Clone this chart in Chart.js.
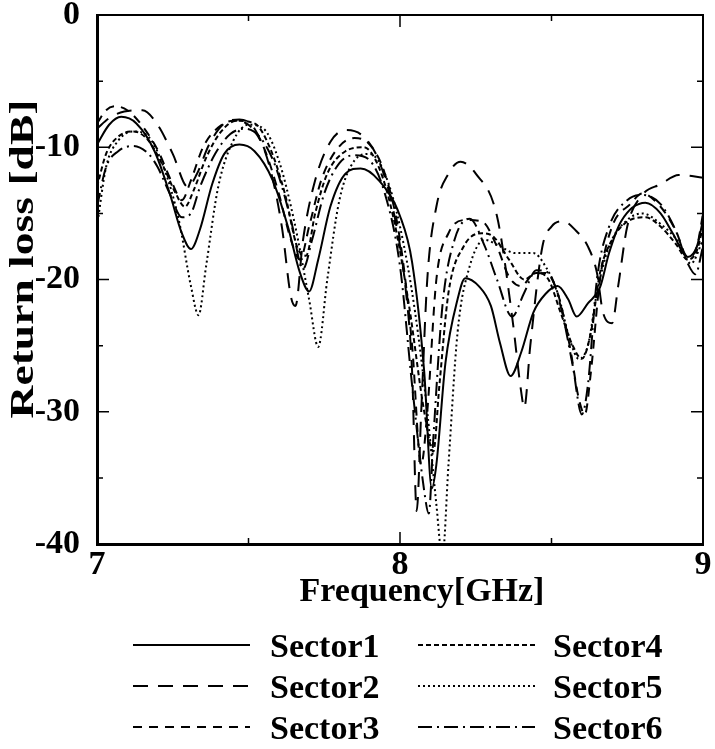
<!DOCTYPE html>
<html>
<head>
<meta charset="utf-8">
<script src="https://cdn.jsdelivr.net/npm/chart.js@4.4.0/dist/chart.umd.min.js"></script>
<style>
html,body{margin:0;padding:0;background:#fff;}
#wrap{width:715px;height:749px;position:relative;}
</style>
</head>
<body>
<div id="wrap"><canvas id="c" width="715" height="749"></canvas></div>
<script>
// [frequency GHz, return loss dB]
const sector1 = [[7.00,-9.8],[7.04,-8.3],[7.08,-7.7],[7.13,-8.2],[7.19,-10.3],[7.24,-13.5],[7.28,-16.5],[7.31,-17.7],[7.34,-16.2],[7.38,-12.8],[7.42,-10.5],[7.47,-9.8],[7.52,-10.3],[7.58,-12.5],[7.63,-16],[7.67,-19.5],[7.70,-20.9],[7.73,-18.5],[7.77,-14.5],[7.82,-12],[7.87,-11.6],[7.93,-12.5],[8.00,-15.2],[8.04,-18.7],[8.08,-27],[8.105,-35.8],[8.12,-34],[8.15,-26.3],[8.19,-21.5],[8.215,-19.9],[8.26,-20.5],[8.30,-22],[8.33,-24.8],[8.365,-27.3],[8.40,-25.5],[8.44,-22.5],[8.48,-21.1],[8.52,-20.5],[8.555,-21.5],[8.583,-22.8],[8.62,-21.8],[8.66,-20.6],[8.69,-18],[8.73,-15.6],[8.81,-14.2],[8.86,-15],[8.90,-16.5],[8.95,-18.3],[8.98,-17.5],[9.00,-15.5]];
const sector2 = [[7.00,-8.6],[7.04,-7.8],[7.09,-7.3],[7.15,-7.2],[7.20,-8.3],[7.25,-10.5],[7.30,-13.0],[7.33,-12.0],[7.37,-9.8],[7.42,-8.2],[7.47,-7.9],[7.52,-8.6],[7.57,-11.5],[7.61,-16],[7.64,-21.3],[7.655,-22],[7.68,-17],[7.72,-12.5],[7.77,-9.6],[7.82,-8.7],[7.88,-9.2],[7.93,-11],[7.98,-15],[8.02,-21],[8.04,-27],[8.055,-37.5],[8.07,-30],[8.09,-20],[8.12,-14.5],[8.16,-12],[8.20,-11.1],[8.25,-12],[8.32,-15.2],[8.37,-22.8],[8.40,-28.5],[8.41,-29.7],[8.43,-25],[8.47,-17.5],[8.50,-16],[8.54,-15.6],[8.58,-16.3],[8.62,-17.5],[8.65,-19.5],[8.67,-22.5],[8.70,-23.3],[8.72,-20.5],[8.75,-16],[8.80,-13.6],[8.86,-12.8],[8.92,-12.1],[9.00,-12.3]];
const sector3 = [[7.00,-8.2],[7.03,-7.2],[7.06,-6.9],[7.10,-7.2],[7.15,-8.4],[7.20,-10.2],[7.25,-12.8],[7.28,-14.0],[7.31,-12.5],[7.35,-10.0],[7.40,-8.5],[7.45,-8.0],[7.50,-8.3],[7.55,-10],[7.60,-13.5],[7.64,-17],[7.67,-18.5],[7.70,-16],[7.74,-12.5],[7.79,-10.2],[7.85,-9.3],[7.90,-9.8],[7.95,-12],[8.00,-17],[8.04,-25],[8.07,-34],[8.09,-30],[8.12,-20],[8.16,-16.5],[8.22,-15.5],[8.27,-15.6],[8.32,-17.5],[8.36,-19.8],[8.40,-20.5],[8.44,-19.6],[8.48,-19.5],[8.52,-21],[8.56,-25],[8.59,-29],[8.61,-30.2],[8.63,-27],[8.66,-20],[8.70,-16],[8.76,-14.3],[8.80,-13.5],[8.86,-14.5],[8.91,-16.3],[8.95,-18.3],[8.98,-17.5],[9.00,-15]];
const sector4 = [[7.00,-13],[7.03,-10.5],[7.07,-9.2],[7.12,-8.8],[7.17,-9.5],[7.22,-11.5],[7.26,-13.5],[7.29,-14.5],[7.32,-13.2],[7.36,-10.8],[7.41,-8.8],[7.46,-8.0],[7.52,-8.2],[7.57,-10],[7.62,-13.5],[7.66,-17.5],[7.69,-18.2],[7.72,-15],[7.76,-12],[7.82,-10.3],[7.88,-10],[7.93,-11.5],[7.98,-15.5],[8.03,-22],[8.08,-30],[8.11,-33],[8.13,-28],[8.16,-21],[8.21,-17.5],[8.27,-16.5],[8.31,-16.8],[8.36,-18.5],[8.41,-20],[8.45,-19.5],[8.49,-20],[8.53,-22.5],[8.57,-25],[8.60,-26],[8.63,-24],[8.66,-19.5],[8.70,-17],[8.76,-15.5],[8.81,-15.3],[8.86,-16],[8.91,-17.3],[8.95,-18.5],[8.98,-17.8],[9.00,-16]];
const sector5 = [[7.00,-16],[7.03,-11.5],[7.07,-9.5],[7.12,-8.8],[7.17,-9.2],[7.22,-11.5],[7.27,-15.5],[7.31,-20.5],[7.335,-22.7],[7.36,-19],[7.40,-13],[7.45,-9.5],[7.50,-8.3],[7.55,-8.6],[7.60,-11],[7.65,-15.5],[7.70,-21.5],[7.73,-25.1],[7.76,-20],[7.80,-14],[7.85,-11],[7.90,-10.5],[7.95,-12],[8.00,-16],[8.05,-22.5],[8.09,-30],[8.12,-37],[8.14,-41],[8.16,-34],[8.19,-24],[8.23,-19],[8.28,-17],[8.33,-17.5],[8.38,-18],[8.44,-18],[8.48,-19],[8.52,-21],[8.56,-24.5],[8.59,-26],[8.62,-25],[8.65,-21],[8.69,-17.5],[8.75,-15.5],[8.80,-15],[8.86,-15.8],[8.92,-17.2],[8.96,-18.8],[9.00,-17]];
const sector6 = [[7.00,-14.5],[7.03,-11.5],[7.07,-10.3],[7.12,-9.9],[7.17,-10.5],[7.20,-11.5],[7.24,-13.5],[7.28,-15.3],[7.31,-15.0],[7.34,-13],[7.39,-10.5],[7.44,-9],[7.49,-8.6],[7.54,-9.3],[7.59,-11.5],[7.64,-15.5],[7.68,-19.2],[7.71,-17],[7.75,-13.5],[7.80,-11.2],[7.85,-10.6],[7.90,-11],[7.95,-13.5],[8.00,-19],[8.04,-28],[8.08,-36],[8.095,-37.7],[8.11,-32],[8.14,-22],[8.18,-17],[8.23,-15.4],[8.28,-17.5],[8.32,-20],[8.37,-22.8],[8.41,-21],[8.45,-19.3],[8.49,-19.5],[8.53,-22],[8.57,-26.5],[8.60,-30.2],[8.62,-28],[8.65,-20],[8.69,-16],[8.75,-14],[8.80,-13.6],[8.86,-14.3],[8.91,-16.3],[8.95,-18.8],[8.975,-19.6],[9.00,-17.5]];

const sectorNames = ['Sector1','Sector2','Sector3','Sector4','Sector5','Sector6'];
const sectorData = [sector1, sector2, sector3, sector4, sector5, sector6];
const dashes = [[], [15,10], [9,7], [5,3], [2,3], [14,5,2,5]];
const xTicks = [7, 8, 9];
const yTicks = [0, -10, -20, -30, -40];
const xTitle = 'Frequency[GHz]';
const yTitle = 'Return loss [dB]';

const FONT = '"Liberation Serif","Times New Roman",serif';

// frame on top/right plus inward tick marks
const framePlugin = {
  id: 'frame',
  afterDraw(chart){
    const {ctx, chartArea:a, scales:{x, y}} = chart;
    ctx.save();
    ctx.strokeStyle = '#000';
    ctx.lineWidth = 2;
    ctx.beginPath();
    ctx.moveTo(a.left, a.top); ctx.lineTo(a.right, a.top); ctx.lineTo(a.right, a.bottom);
    ctx.stroke();
    ctx.lineWidth = 1.5;
    ctx.beginPath();
    for (let v = 7; v <= 9.001; v += 0.5) {
      const px = x.getPixelForValue(v);
      const len = Math.abs(v - Math.round(v)) < 0.01 ? 12 : 6;
      ctx.moveTo(px, a.bottom); ctx.lineTo(px, a.bottom - len);
      ctx.moveTo(px, a.top); ctx.lineTo(px, a.top + len);
    }
    for (let v = -40; v <= 0.001; v += 5) {
      const py = y.getPixelForValue(v);
      const len = v % 10 === 0 ? 12 : 6;
      ctx.moveTo(a.left, py); ctx.lineTo(a.left + len, py);
      ctx.moveTo(a.right, py); ctx.lineTo(a.right - len, py);
    }
    ctx.stroke();
    ctx.restore();
  }
};

// axis titles (the y one is drawn stretched like the original) and two-column legend
const legendPlugin = {
  id: 'sectorLegend',
  afterDraw(chart){
    const ctx = chart.ctx;
    ctx.save();
    ctx.font = 'bold 34px ' + FONT;
    ctx.fillStyle = '#000';
    ctx.strokeStyle = '#000';
    ctx.lineWidth = 2;

    ctx.save();
    ctx.translate(24, 259);
    ctx.rotate(-Math.PI / 2);
    ctx.scale(1.34, 1);
    ctx.textAlign = 'center';
    ctx.textBaseline = 'middle';
    ctx.fillText(yTitle, 0, 0);
    ctx.restore();

    ctx.textBaseline = 'alphabetic';
    ctx.textAlign = 'center';
    ctx.fillText(xTitle, 422, 601);
    ctx.textAlign = 'left';
    const cols = [{x0:133, x1:250, tx:270}, {x0:418, x1:535, tx:553}];
    const rows = [645, 686, 727];
    chart.data.datasets.forEach((ds, i) => {
      const c = cols[Math.floor(i / 3)], ry = rows[i % 3];
      ctx.setLineDash(ds.borderDash || []);
      ctx.beginPath(); ctx.moveTo(c.x0, ry); ctx.lineTo(c.x1, ry); ctx.stroke();
      ctx.setLineDash([]);
      ctx.fillText(ds.label, c.tx, ry + 12);
    });
    ctx.restore();
  }
};

new Chart(document.getElementById('c'), {
  type: 'line',
  data: {
    datasets: sectorData.map((pts, i) => ({
      label: sectorNames[i],
      data: pts.map(p => ({x: p[0], y: p[1]})),
      borderColor: '#000',
      borderWidth: 2,
      borderDash: dashes[i],
      pointRadius: 0,
      fill: false,
      cubicInterpolationMode: 'monotone'
    }))
  },
  options: {
    responsive: false,
    animation: false,
    layout: {padding: {top: 15, right: 12, bottom: 130, left: 0}},
    plugins: {legend: {display: false}, tooltip: {enabled: false}},
    scales: {
      x: {
        type: 'linear', min: 7, max: 9,
        afterBuildTicks: s => { s.ticks = xTicks.map(v => ({value: v})); },
        afterFit: s => { s.height = 75; s.paddingLeft = 0; s.paddingRight = 0; },
        ticks: {color: '#000', font: {family: FONT, size: 34, weight: 'bold'}, padding: -7, maxRotation: 0},
        grid: {display: false},
        border: {display: true, color: '#000', width: 3},
        title: {display: false}
      },
      y: {
        min: -40, max: 0,
        afterBuildTicks: s => { s.ticks = yTicks.map(v => ({value: v})); },
        afterFit: s => { s.width = 97; s.paddingTop = 0; s.paddingBottom = 0; },
        ticks: {color: '#000', font: {family: FONT, size: 34, weight: 'bold'}, padding: 9},
        grid: {display: false},
        border: {display: true, color: '#000', width: 3},
        title: {display: false}
      }
    }
  },
  plugins: [framePlugin, legendPlugin]
});
</script>
</body>
</html>
